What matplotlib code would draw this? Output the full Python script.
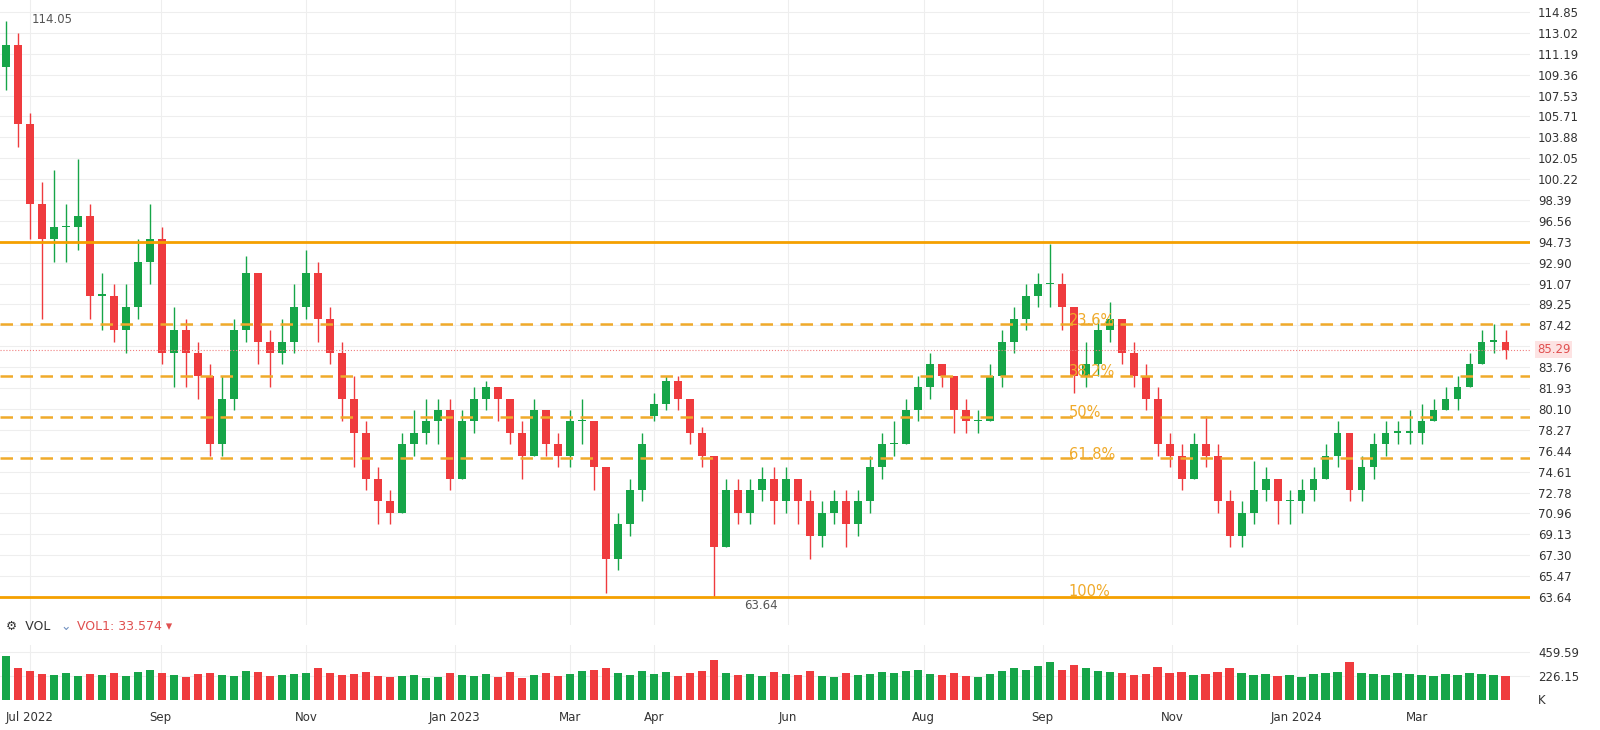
import matplotlib.pyplot as plt
from matplotlib.patches import Rectangle

opens = [110, 112, 105, 98, 95, 96, 96, 97, 90, 90, 87, 89, 93, 95, 85, 87, 85, 83, 77, 81,
         87, 92, 86, 85, 86, 89, 92, 88, 85, 81, 78, 74, 72, 71, 77, 78, 79, 80, 74, 79,
         81, 82, 81, 78, 76, 80, 77, 76, 79, 79, 75, 67, 70, 73, 79.5, 80.5, 82.5, 81, 78, 76,
         68, 73, 71, 73, 74, 72, 74, 72, 69, 71, 72, 70, 72, 75, 77, 77, 80, 82, 84, 83,
         80, 79, 79, 83, 86, 88, 90, 91, 91, 89, 83, 84, 87, 88, 85, 83, 81, 77, 76, 74,
         77, 76, 72, 69, 71, 73, 74, 72, 72, 73, 74, 76, 78, 73, 75, 77, 78, 78, 78, 79,
         80, 81, 82, 84, 86, 86]
closes = [112, 105, 98, 95, 96, 96, 97, 90, 90, 87, 89, 93, 95, 85, 87, 85, 83, 77, 81, 87,
          92, 86, 85, 86, 89, 92, 88, 85, 81, 78, 74, 72, 71, 77, 78, 79, 80, 74, 79, 81,
          82, 81, 78, 76, 80, 77, 76, 79, 79, 75, 67, 70, 73, 77, 80.5, 82.5, 81, 78, 76, 68,
          73, 71, 73, 74, 72, 74, 72, 69, 71, 72, 70, 72, 75, 77, 77, 80, 82, 84, 83, 80,
          79, 79, 83, 86, 88, 90, 91, 91, 89, 83, 84, 87, 88, 85, 83, 81, 77, 76, 74, 77,
          76, 72, 69, 71, 73, 74, 72, 72, 73, 74, 76, 78, 73, 75, 77, 78, 78, 78, 79, 80,
          81, 82, 84, 86, 86, 85.3]
highs = [114.05, 113, 106, 100, 101, 98, 102, 98, 92, 91, 91, 95, 98, 96, 89, 88, 86, 84, 83, 88,
         93.5, 92, 87, 88, 91, 94, 93, 89, 86, 83, 79, 75, 73, 78, 80, 81, 81, 81, 80, 82,
         82.5, 82, 81, 79, 81, 80, 78, 80, 81, 79, 75, 71, 74, 78, 81.5, 83, 83, 81, 78.5, 76,
         74, 74, 74, 75, 75, 75, 74, 73, 72, 73, 73, 73, 76, 78, 79, 81, 83, 85, 84, 83,
         81, 80, 84, 87, 89, 91, 92, 94.5, 92, 89, 86, 88, 89.5, 88, 86, 84, 82, 78, 77, 78,
         79.5, 77, 73, 72, 75.5, 75, 74, 73, 74, 75, 77, 79, 78, 76, 78, 79, 79, 80, 80.5, 81,
         82, 83, 85, 87, 87.5, 87]
lows = [108, 103, 95, 88, 93, 93, 94, 88, 87, 86, 85, 88, 91, 84, 82, 82, 81, 76, 76, 80,
        86, 84, 82, 84, 85, 88, 86, 84, 79, 75, 73, 70, 70, 71, 76, 77, 77, 73, 74, 78,
        80, 79, 77, 74, 76, 76, 75, 75, 77, 73, 64, 66, 69, 72, 79, 80, 80, 77, 75, 63.64,
        68, 70, 70, 72, 70, 71, 70, 67, 68, 70, 68, 69, 71, 74, 76, 77, 79, 81, 82, 78,
        78, 78, 79, 82, 85, 87, 89, 89, 87, 81.5, 82, 83, 86, 84, 82, 80, 76, 75, 73, 74,
        75, 71, 68, 68, 70, 72, 70, 70, 71, 72, 74, 75, 72, 72, 74, 76, 77, 77, 77, 79,
        80, 80, 82, 84, 85, 84.5]
volumes = [420, 300, 280, 250, 240, 260, 230, 250, 240, 260, 230, 270, 290, 260, 240, 220, 250, 260, 240, 230,
           280, 270, 230, 240, 250, 260, 300, 260, 240, 250, 270, 230, 220, 230, 240, 210, 220, 260, 240, 230,
           250, 220, 270, 210, 240, 260, 230, 250, 280, 290, 300, 260, 240, 280, 250, 270, 230, 260, 280, 380,
           260, 240, 250, 230, 270, 250, 240, 280, 230, 220, 260, 240, 250, 270, 260, 280, 290, 250, 240, 260,
           230, 220, 250, 280, 300, 290, 320, 360, 290, 330, 300, 280, 270, 260, 240, 250, 310, 260, 270, 240,
           250, 270, 300, 260, 240, 250, 230, 240, 220, 250, 260, 270, 360, 260, 250, 240, 260, 250, 240, 230,
           250, 240, 260, 250, 240, 230]

price_ticks = [114.85, 113.02, 111.19, 109.36, 107.53, 105.71, 103.88, 102.05, 100.22, 98.39, 96.56,
               94.73, 92.90, 91.07, 89.25, 87.42, 85.59, 83.76, 81.93, 80.10, 78.27, 76.44, 74.61,
               72.78, 70.96, 69.13, 67.30, 65.47, 63.64]
vol_ticks = [226.15, 459.59]
date_labels = ["Jul 2022", "Sep", "Nov", "Jan 2023", "Mar", "Apr", "Jun", "Aug", "Sep", "Nov", "Jan 2024", "Mar"]
date_pos = [2, 12.9, 25, 37.4, 47, 54, 65.2, 76.5, 86.4, 97.2, 107.6, 117.6]
fib_levels = [87.5, 83.0, 79.4, 75.8]
fib_labels = ["23.6%", "38.2%", "50%", "61.8%"]
top_level = 94.73
bottom_level = 63.64
last_price = 85.29

green = "#16a548"
red = "#ef3b3e"
orange = "#f5a000"

fig = plt.figure(figsize=(16, 7.3), dpi=100)
ax = fig.add_axes([0, 0.144, 0.956, 0.856])
axv = fig.add_axes([0, 0.041, 0.956, 0.075], sharex=ax)

for i in range(len(closes)):
    o, c = opens[i], closes[i]
    col = green if c >= o else red
    ax.vlines(i, lows[i], highs[i], color=col, lw=1)
    ax.add_patch(Rectangle((i - 0.32, min(o, c)), 0.64, max(abs(c - o), 0.15), color=col, lw=0))
    axv.bar(i, volumes[i], width=0.7, color=col)

ax.axhline(top_level, color=orange, lw=2)
ax.axhline(bottom_level, color=orange, lw=2)
for lv, lb in zip(fib_levels, fib_labels):
    ax.axhline(lv, color="#f0aa2a", lw=1.8, ls=(0, (5, 3)))
    ax.text(88.6, lv + 0.35, lb, color="#f0aa2a", fontsize=10.5, va="center")
ax.text(88.6, bottom_level + 0.5, "100%", color="#f0aa2a", fontsize=10.5, va="center")
ax.axhline(last_price, color="#f08080", lw=0.8, ls=":")

ax.set_xlim(-0.5, 127)
ax.set_ylim(61.19, 115.9)
ax.set_yticks(price_ticks)
ax.set_yticklabels([f"{t:.2f}" for t in price_ticks])
ax.yaxis.tick_right()
ax.tick_params(axis="y", pad=6, labelsize=8.5, colors="#333333", length=0)
ax.tick_params(axis="x", bottom=False, labelbottom=False)
ax.grid(True, color="#eeeeee", lw=0.8)
ax.set_axisbelow(True)
for s in ax.spines.values():
    s.set_visible(False)
ax.text(2.1, 113.9, "114.05", fontsize=8.5, color="#555555")
ax.text(61.5, 62.6, "63.64", fontsize=8.5, color="#555555")
ax.text(127.6, last_price, f"{last_price:.2f}", fontsize=8.5, color="#e05050", va="center",
        bbox=dict(fc="#fde3e3", ec="none", pad=1.5))

fig.text(0.004, 0.142, "⚙  VOL", fontsize=9, color="#333333", va="center")
fig.text(0.038, 0.142, "⌄", fontsize=9, color="#7090c0", va="center")
fig.text(0.048, 0.142, "VOL1: 33.574 ▾", fontsize=9, color="#e05050", va="center")

axv.set_ylim(0, 520)
axv.set_yticks(vol_ticks)
axv.set_yticklabels([f"{t:.2f}" for t in vol_ticks])
axv.yaxis.tick_right()
axv.tick_params(axis="y", pad=6, labelsize=8.5, length=0, colors="#333333")
axv.set_xticks(date_pos)
axv.set_xticklabels(date_labels)
axv.tick_params(axis="x", length=0, labelsize=8.5, colors="#333333", pad=8)
axv.grid(True, color="#eeeeee", lw=0.8)
axv.set_axisbelow(True)
for s in axv.spines.values():
    s.set_visible(False)
fig.text(0.961, 0.035, "K", fontsize=8.5, color="#333333")

fig.savefig("out.png")
